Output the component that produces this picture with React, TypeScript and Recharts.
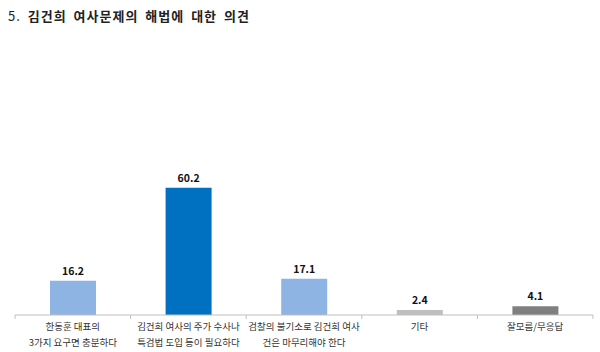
import React from 'react';
import { BarChart, Bar, XAxis, YAxis, Cell, LabelList } from 'recharts';

const categories = [
  '한동훈 대표의\n3가지 요구면 충분하다',
  '김건희 여사의 주가 수사나\n특검법 도입 등이 필요하다',
  '검찰의 불기소로 김건희 여사\n건은 마무리해야 한다',
  '기타',
  '잘모름/무응답',
];
const values = [16.2, 60.2, 17.1, 2.4, 4.1];
const barColors = ['#8DB4E2', '#0070C0', '#8DB4E2', '#BFBFBF', '#7F7F7F'];

const data = categories.map((name, i) => ({ name, value: values[i] }));

const FONT = '"Noto Sans CJK KR", "Noto Sans", sans-serif';
const BAND = 578 / categories.length;

function CategoryTick(props: any) {
  const { x, y, payload, index } = props;
  const lines = String(payload.value).split('\n');
  return (
    <g>
      <line x1={x - BAND / 2} y1={y - 8} x2={x - BAND / 2} y2={y - 4} stroke="#BFBFBF" />
      {index === categories.length - 1 && (
        <line x1={x + BAND / 2} y1={y - 8} x2={x + BAND / 2} y2={y - 4} stroke="#BFBFBF" />
      )}
      {lines.map((line, i) => (
        <text
          key={i}
          x={x}
          y={y + 7 + i * 16}
          textAnchor="middle"
          fontSize={9.5}
          fontFamily={FONT}
          fill="#333"
        >
          {line}
        </text>
      ))}
    </g>
  );
}

export default function App() {
  return (
    <div style={{ position: 'absolute', left: 0, top: 0, width: 600, height: 352, background: '#fff' }}>
      <div
        style={{
          position: 'absolute',
          left: 8,
          top: 6,
          fontFamily: FONT,
          fontSize: 13,
          letterSpacing: 1,
          wordSpacing: 3,
          color: '#222',
        }}
      >
        5. <b>김건희 여사문제의 해법에 대한 의견</b>
      </div>
      <BarChart
        width={600}
        height={352}
        data={data}
        margin={{ top: 40, right: 7, left: 15, bottom: 0 }}
        barCategoryGap="30%"
      >
        <XAxis
          dataKey="name"
          interval={0}
          height={37}
          axisLine={{ stroke: '#BFBFBF' }}
          tickLine={false}
          tick={<CategoryTick />}
        />
        <YAxis hide domain={[0, 130]} />
        <Bar dataKey="value" barSize={46} isAnimationActive={false}>
          {data.map((d, i) => (
            <Cell key={d.name} fill={barColors[i]} />
          ))}
          <LabelList
            dataKey="value"
            position="top"
            offset={6}
            formatter={(v: any) => Number(v).toFixed(1)}
            style={{ fontSize: 10.5, fontWeight: 'bold', fontFamily: FONT, fill: '#111' }}
          />
        </Bar>
      </BarChart>
    </div>
  );
}
